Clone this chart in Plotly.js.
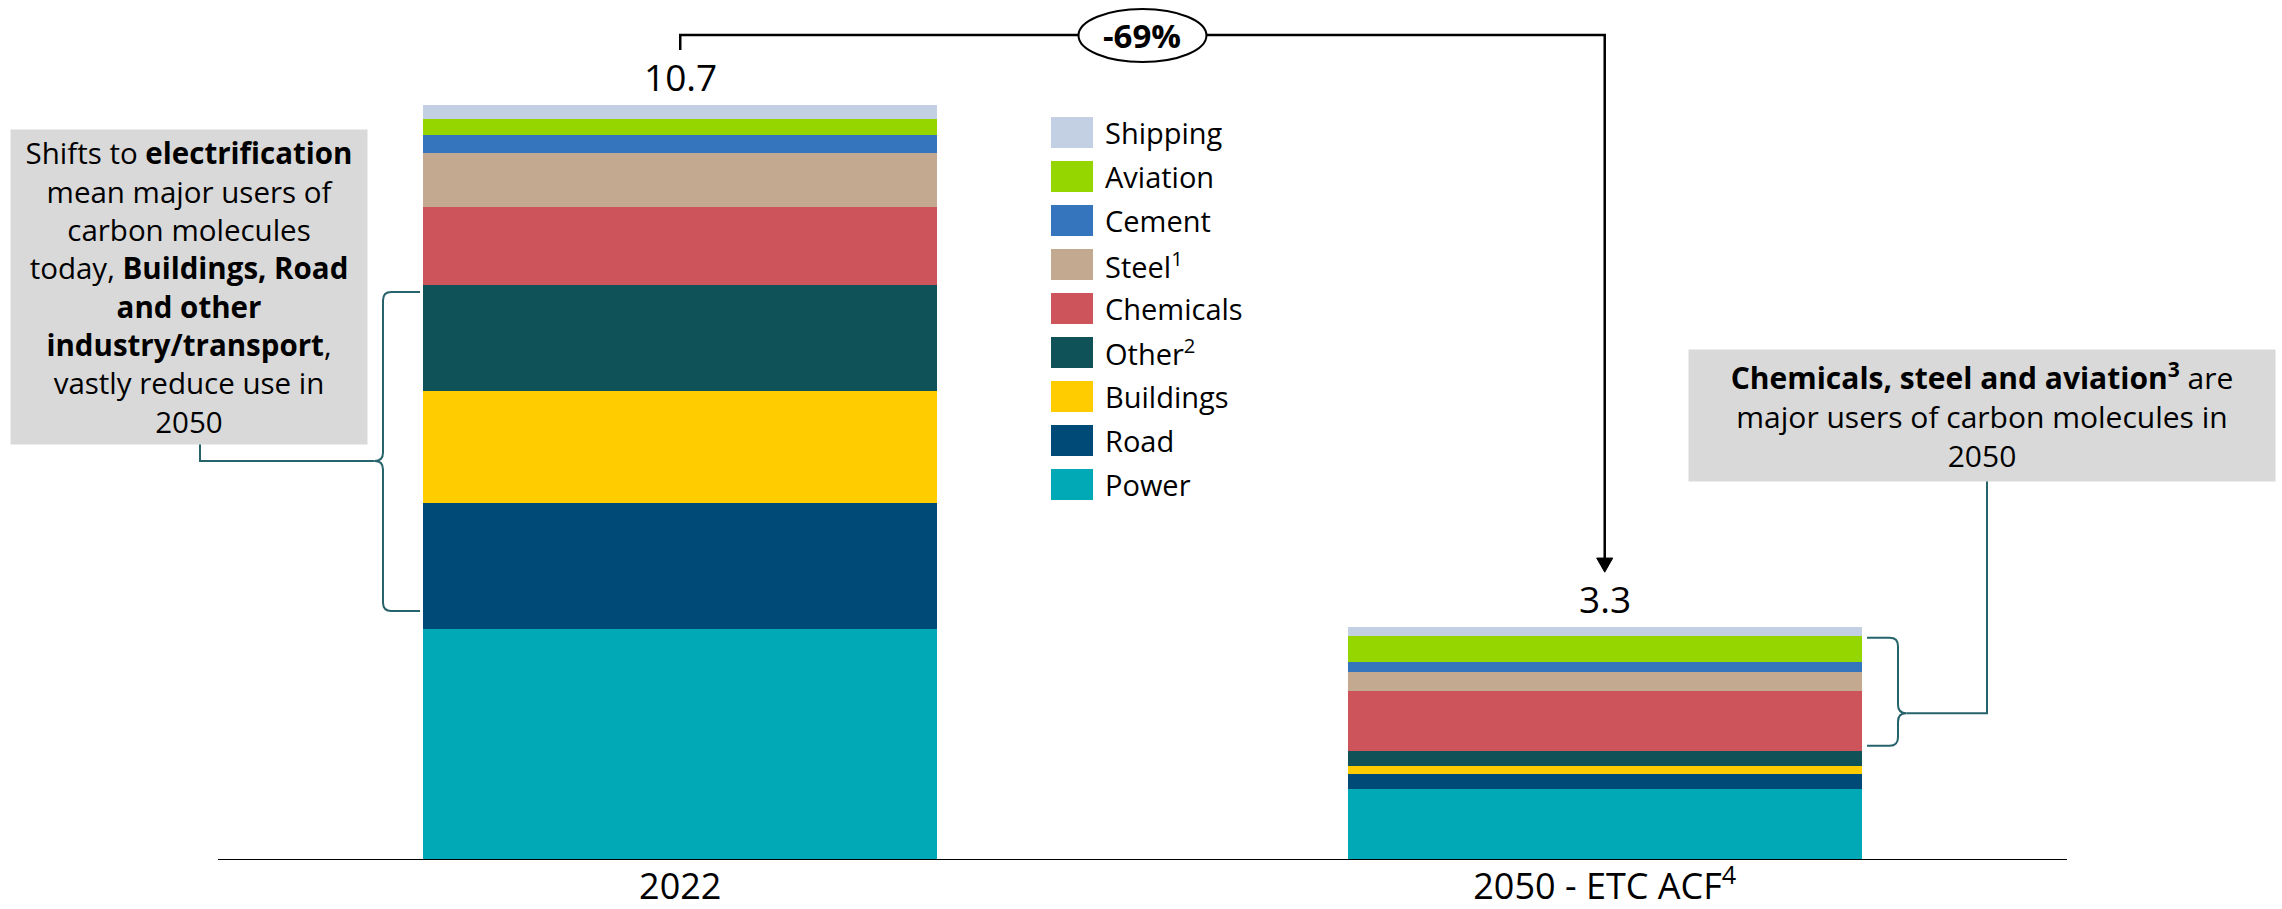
<!DOCTYPE html>
<html>
<head>
<meta charset="utf-8">
<script src="https://cdn.plot.ly/plotly-3.0.1.min.js"></script>
<style>
  html, body { margin: 0; padding: 0; background: #ffffff; }
  #chart { width: 2282px; height: 909px; }
</style>
</head>
<body>
<div id="chart"></div>
<script>
// Carbon molecule demand by sector, 2022 vs 2050 (ETC ACF scenario)
const categories = ['2022', '2050 - ETC ACF<sup>4</sup>'];
const sectors = ['Power', 'Road', 'Buildings', 'Other<sup>2</sup>', 'Chemicals', 'Steel<sup>1</sup>', 'Cement', 'Aviation', 'Shipping'];
const sectorColors = ['#00A9B5', '#004A77', '#FFCC00', '#0F5257', '#CD545B', '#C4A991', '#3575BE', '#96D600', '#C3CFE2'];
const values2022 = [3.28, 1.78, 1.59, 1.50, 1.10, 0.77, 0.25, 0.23, 0.20];
const values2050 = [1.00, 0.22, 0.11, 0.21, 0.86, 0.26, 0.14, 0.38, 0.12];

const FONT = '"Open Sans", Lato, sans-serif';
const W = 2282, H = 909;
const PLOT_BOTTOM = 860;           // pixel row of the baseline
const Y_MAX = 12.19;               // value shown at the top edge of the plot
const X_MIN = -0.7358, X_MAX = 1.7326;
const BAR_WIDTH = 0.556;

// pixel -> axis / paper helpers for the decorations
const pxX = px => X_MIN + (X_MAX - X_MIN) * px / W;
const pxY = py => Y_MAX * (PLOT_BOTTOM - py) / PLOT_BOTTOM;
const paperX = px => px / W;
const paperY = py => (PLOT_BOTTOM - py) / PLOT_BOTTOM;

const sum = a => a.reduce((s, v) => s + v, 0);
const cum = (a, n) => sum(a.slice(0, n));
const total2022 = sum(values2022);
const total2050 = sum(values2050);

const traces = sectors.map((name, i) => ({
  type: 'bar',
  x: categories,
  y: [values2022[i], values2050[i]],
  name: name,
  width: BAR_WIDTH,
  marker: { color: sectorColors[i], line: { width: 0 } },
  showlegend: false,
  hoverinfo: 'skip'
}));

const shapes = [];
const annotations = [];

// baseline
shapes.push({ type: 'line', xref: 'x', yref: 'y', x0: -0.5, x1: 1.5, y0: 0, y1: 0,
  line: { color: '#000000', width: 2 }, layer: 'above' });

// totals above the bars (category index as x position)
[total2022, total2050].forEach((t, k) => {
  annotations.push({ x: k, y: t, xref: 'x', yref: 'y', text: t.toFixed(1),
    showarrow: false, yanchor: 'bottom', yshift: 1, font: { family: FONT, size: 37, color: '#000' } });
});

// change arrow from the 2022 total to the 2050 total
const arrowGap = 0.78;
const arrowTop = pxY(35);
const tipY = total2050 + arrowGap;
const headH = 0.2, headW = 0.0087;
shapes.push({ type: 'path', xref: 'x', yref: 'y',
  path: `M 0,${total2022 + arrowGap} L 0,${arrowTop} L 1,${arrowTop} L 1,${tipY + headH}`,
  line: { color: '#000000', width: 2.5 } });
shapes.push({ type: 'path', xref: 'x', yref: 'y',
  path: `M ${1 - headW},${tipY + headH} L ${1 + headW},${tipY + headH} L 1,${tipY} Z`,
  fillcolor: '#000000', line: { color: '#000000', width: 1 } });
shapes.push({ type: 'circle', xref: 'x', yref: 'y',
  x0: 0.5 - 0.0692, x1: 0.5 + 0.0692, y0: pxY(62), y1: pxY(9),
  fillcolor: '#ffffff', line: { color: '#000000', width: 2 } });
const change = Math.round((total2050 / total2022 - 1) * 100);
annotations.push({ x: 0.5, y: arrowTop, xref: 'x', yref: 'y', text: `<b>${change}%</b>`,
  showarrow: false, font: { family: FONT, size: 33, color: '#000' } });

// braces next to the bars
const BRACE = '#26636B';
function brace(xEdge, xSpine, top, bottom, knot, dir) {
  const rx = 0.009 * dir, ry = 0.12;
  return `M ${xEdge},${top} L ${xSpine - rx},${top} Q ${xSpine},${top} ${xSpine},${top - ry} ` +
    `L ${xSpine},${knot + ry} Q ${xSpine},${knot} ${xSpine + rx},${knot} Q ${xSpine},${knot} ${xSpine},${knot - ry} ` +
    `L ${xSpine},${bottom + ry} Q ${xSpine},${bottom} ${xSpine - rx},${bottom} L ${xEdge},${bottom}`;
}
// left: Road, Buildings and Other in 2022
const lTop = cum(values2022, 4) - 0.1, lBottom = cum(values2022, 1) + 0.25;
const lKnot = lBottom + 0.47 * (lTop - lBottom);
const lSpine = pxX(383), lEdge = pxX(420);
shapes.push({ type: 'path', xref: 'x', yref: 'y', path: brace(lEdge, lSpine, lTop, lBottom, lKnot, -1),
  line: { color: BRACE, width: 2 } });
shapes.push({ type: 'path', xref: 'x', yref: 'y',
  path: `M ${lSpine - 0.009},${lKnot} L ${pxX(200)},${lKnot} L ${pxX(200)},${pxY(444)}`,
  line: { color: BRACE, width: 2 } });
// right: Chemicals to Aviation in 2050
const rTop = cum(values2050, 8) - 0.03, rBottom = cum(values2050, 4) + 0.08;
const rKnot = rBottom + 0.3 * (rTop - rBottom);
const rSpine = pxX(1898), rEdge = pxX(1867);
shapes.push({ type: 'path', xref: 'x', yref: 'y', path: brace(rEdge, rSpine, rTop, rBottom, rKnot, 1),
  line: { color: BRACE, width: 2 } });
shapes.push({ type: 'path', xref: 'x', yref: 'y',
  path: `M ${rSpine + 0.009},${rKnot} L ${pxX(1987)},${rKnot} L ${pxX(1987)},${pxY(481)}`,
  line: { color: BRACE, width: 2 } });

// call-out boxes
annotations.push({ xref: 'paper', yref: 'paper', x: paperX(189), y: paperY(287),
  xanchor: 'center', yanchor: 'middle', width: 356, height: 314, borderpad: 0,
  bgcolor: '#D9D9D9', align: 'center', valign: 'middle', showarrow: false,
  font: { family: FONT, size: 29.5, color: '#000' },
  text: 'Shifts to <b>electrification</b><br>mean major users of<br>carbon molecules<br>' +
        'today, <b>Buildings, Road</b><br><b>and other</b><br><b>industry/transport</b>,<br>' +
        'vastly reduce use in<br>2050' });
annotations.push({ xref: 'paper', yref: 'paper', x: paperX(1982), y: paperY(415.5),
  xanchor: 'center', yanchor: 'middle', width: 586, height: 131, borderpad: 0,
  bgcolor: '#D9D9D9', align: 'center', valign: 'middle', showarrow: false,
  font: { family: FONT, size: 30, color: '#000' },
  text: '<b>Chemicals, steel and aviation<sup>3</sup></b> are<br>major users of carbon molecules in<br>2050' });

// legend, top row = last stacked series
for (let r = 0; r < sectors.length; r++) {
  const i = sectors.length - 1 - r;
  const cy = 132.5 + 44 * r;
  shapes.push({ type: 'rect', xref: 'paper', yref: 'paper',
    x0: paperX(1051), x1: paperX(1093), y0: paperY(cy + 15.5), y1: paperY(cy - 15.5),
    fillcolor: sectorColors[i], line: { width: 0 } });
  annotations.push({ xref: 'paper', yref: 'paper', x: paperX(1103), y: paperY(cy),
    xanchor: 'left', yanchor: 'middle', showarrow: false, text: sectors[i],
    font: { family: FONT, size: 29, color: '#000' } });
}

const layout = {
  width: W, height: H,
  margin: { l: 0, r: 0, t: 0, b: H - PLOT_BOTTOM, pad: 0 },
  paper_bgcolor: '#ffffff', plot_bgcolor: '#ffffff',
  barmode: 'stack',
  showlegend: false,
  xaxis: { type: 'category', range: [X_MIN, X_MAX], showgrid: false, zeroline: false, showline: false,
    ticks: '', ticklabelstandoff: 2, tickfont: { family: FONT, size: 36, color: '#000' }, fixedrange: true },
  yaxis: { range: [0, Y_MAX], visible: false, fixedrange: true },
  shapes: shapes,
  annotations: annotations,
  font: { family: FONT }
};

Plotly.newPlot('chart', traces, layout, { displayModeBar: false, staticPlot: true });
</script>
</body>
</html>
